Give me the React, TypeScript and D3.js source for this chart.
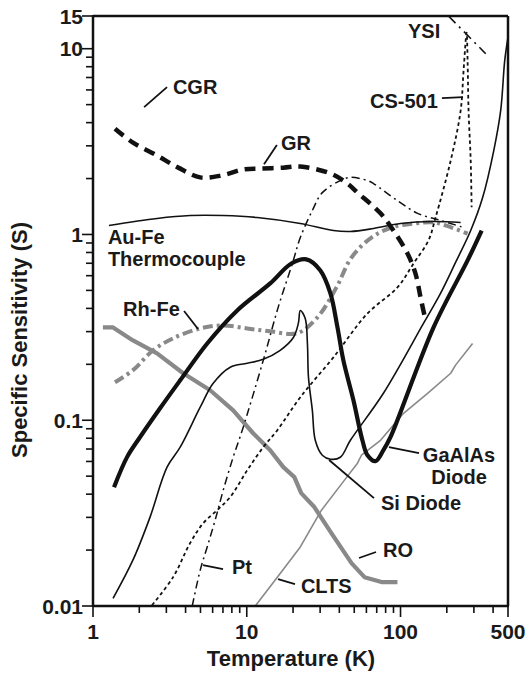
import React from "react";
import * as d3 from "d3";

type Pt = [number, number];

// [temperature (K), specific sensitivity S]
const cgr: Pt[] = [
  [1.39, 3.71], [1.82, 3.12], [2.61, 2.66], [3.58, 2.29], [4.98, 2.03], [6.92, 2.08],
  [9.49, 2.24], [12.2, 2.26], [17.3, 2.29], [22.3, 2.32], [35.0, 2.13], [45.2, 1.88],
  [52.5, 1.68], [74.1, 1.3], [90.0, 1.05], [111, 0.79], [125, 0.617], [135, 0.458], [145.5, 0.345],
];
const auFe: Pt[] = [
  [1.27, 1.118], [2.61, 1.22], [4.28, 1.265], [7.03, 1.265], [11.7, 1.234], [22.3, 1.146],
  [36.6, 1.05], [47.2, 1.038], [66.7, 1.077], [100, 1.146], [164, 1.175], [246, 1.16],
];
const rhFe: Pt[] = [
  [1.39, 0.16], [1.82, 0.186], [2.46, 0.238], [3.32, 0.276], [4.98, 0.312], [7.03, 0.324],
  [10.07, 0.312], [14.2, 0.301], [21.3, 0.294], [28.8, 0.358], [38.3, 0.519], [48.0, 0.752],
  [64.7, 0.963], [87.4, 1.09], [123, 1.146], [166, 1.16], [215, 1.09], [273, 1.01],
];
const gaAlAs: Pt[] = [
  [1.37, 0.0436], [1.665, 0.0633], [2.02, 0.081], [2.73, 0.116], [3.69, 0.164], [5.53, 0.259],
  [8.67, 0.39], [14.2, 0.545], [19.5, 0.698], [24.4, 0.734], [30.1, 0.64], [35.0, 0.482],
  [38.9, 0.316], [42.5, 0.21], [49.4, 0.128], [56.5, 0.078], [61.0, 0.0648], [68.7, 0.0602],
  [77.4, 0.069], [86.0, 0.081], [164, 0.316], [273, 0.725], [337, 1.05],
];
const siDiode: Pt[] = [
  [1.35, 0.011], [1.82, 0.0177], [2.35, 0.0301], [3.03, 0.0559], [3.69, 0.0716], [4.98, 0.1175],
  [6.05, 0.158], [7.81, 0.193], [10.07, 0.2025], [12.8, 0.213], [16.5, 0.238],
  [20.1, 0.279], [21.65, 0.332], [22.3, 0.39], [24.0, 0.353], [24.8, 0.259], [25.2, 0.17],
  [26.7, 0.113], [27.9, 0.078], [31.0, 0.0648], [35.0, 0.0617], [40.6, 0.0632], [47.2, 0.078],
  [77.4, 0.1397], [141, 0.332], [182, 0.482], [228, 0.707], [286, 1.05], [342, 1.58],
  [404, 2.83], [448, 4.64], [476, 8.62], [498, 11.3],
];
const ro: Pt[] = [
  [1.16, 0.316], [1.35, 0.316], [1.82, 0.269], [2.61, 0.229], [3.86, 0.179], [5.78, 0.145],
  [8.16, 0.113], [11.0, 0.0851], [14.2, 0.069], [17.3, 0.0559], [20.4, 0.0494], [22.6, 0.0405],
  [27.5, 0.0341], [35.5, 0.0247], [48.0, 0.017], [58.3, 0.0143], [75.2, 0.01346], [95.5, 0.01346],
];
const clts: Pt[] = [
  [11.36, 0.01], [15.8, 0.0143], [22.3, 0.0208], [30.6, 0.0328], [43.2, 0.0476], [52.5, 0.0587],
  [55.7, 0.0648], [74.1, 0.078], [104.6, 0.109], [150, 0.1397], [212, 0.179], [228, 0.198], [294, 0.259],
];
const platinum: Pt[] = [
  [4.42, 0.01], [4.98, 0.0156], [5.53, 0.0208], [6.23, 0.029], [7.03, 0.042], [8.16, 0.0633],
  [9.35, 0.0884], [12.8, 0.21], [16.0, 0.405], [19.8, 0.698], [22.3, 0.963], [26.7, 1.346],
  [31.0, 1.68], [40.6, 1.95], [47.2, 2.03], [61.0, 1.95], [66.7, 1.88], [95.5, 1.52],
  [129, 1.3], [182, 1.19], [257, 1.09],
];
const cs501: Pt[] = [
  [2.42, 0.0101], [3.32, 0.0143], [4.28, 0.0218], [5.21, 0.0279], [6.42, 0.0328], [7.81, 0.0386],
  [10.07, 0.0538], [12.8, 0.0716], [15.8, 0.0884], [22.3, 0.133], [36.6, 0.218], [61.0, 0.376],
  [95.5, 0.519], [121.5, 0.698], [152, 0.929], [169, 1.234], [212, 2.5], [246, 4.64],
  [257, 7.61], [269, 12.2], [273, 8.62], [277, 4.64], [286, 2.5], [290, 1.4],
];
const ysi: Pt[] = [[205, 15], [358, 9.4]];

const xMajor = [1, 10, 100, 500];
const xMinor = [2, 3, 4, 5, 6, 7, 8, 9, 20, 30, 40, 50, 60, 70, 80, 90, 200, 300, 400];
const yMajor = [0.01, 0.1, 1, 10, 15];
const yMinor = [
  0.02, 0.03, 0.04, 0.05, 0.06, 0.07, 0.08, 0.09,
  0.2, 0.3, 0.4, 0.5, 0.6, 0.7, 0.8, 0.9,
  2, 3, 4, 5, 6, 7, 8, 9,
];

const GREY = "#898989";
const FONT = "'Liberation Sans', Arial, Helvetica, sans-serif";

export default function App() {
  const x = d3.scaleLog().domain([1, 500]).range([93, 508]);
  const y = d3.scaleLog().domain([0.01, 15]).range([606, 16]);
  const smooth = d3.line<Pt>().x((d) => x(d[0])).y((d) => y(d[1])).curve(d3.curveCatmullRom.alpha(0.5));
  const straight = d3.line<Pt>().x((d) => x(d[0])).y((d) => y(d[1]));

  const series = [
    { data: clts, gen: straight, stroke: GREY, width: 1.6, dash: null },
    { data: ro, gen: straight, stroke: GREY, width: 4.2, dash: null },
    { data: rhFe, gen: smooth, stroke: GREY, width: 4, dash: "10,4,3,4" },
    { data: platinum, gen: smooth, stroke: "#111", width: 1.5, dash: "8,4,2,4" },
    { data: cs501, gen: smooth, stroke: "#111", width: 1.8, dash: "3.5,3" },
    { data: ysi, gen: straight, stroke: "#111", width: 1.6, dash: "10,5,2,5" },
    { data: auFe, gen: smooth, stroke: "#111", width: 1.6, dash: null },
    { data: siDiode, gen: smooth, stroke: "#111", width: 1.6, dash: null },
    { data: gaAlAs, gen: smooth, stroke: "#111", width: 4.2, dash: null },
    { data: cgr, gen: smooth, stroke: "#111", width: 4.5, dash: "11,7" },
  ];

  // labels placed in data coordinates, with pointer lines
  const labels = [
    { text: "CGR", at: [3.31, 5.7], ptr: [[3.03, 6.21], [2.15, 4.85]] },
    { text: "GR", at: [16.7, 2.85], ptr: [[15.7, 3.03], [12.95, 2.39]] },
    { text: "YSI", at: [111.9, 11.4], ptr: null },
    { text: "CS-501", at: [63.3, 4.79], ptr: [[186, 5.42], [255, 5.49]] },
    { text: "Rh-Fe", at: [1.57, 0.364], ptr: [[3.91, 0.387], [4.82, 0.31]] },
    { text: "Si Diode", at: [74.7, 0.0329], ptr: [[67.2, 0.0381], [34.3, 0.0611]] },
    { text: "RO", at: [76.9, 0.01835], ptr: [[69.3, 0.01953], [53.7, 0.01813]] },
    { text: "CLTS", at: [22.5, 0.01175], ptr: [[15.97, 0.01397], [20.6, 0.01313]] },
    { text: "Pt", at: [8.02, 0.01487], ptr: [[5.19, 0.01662], [7.01, 0.01581]] },
  ];
  const gaPtr: Pt[] = [[131.9, 0.0666], [84.1, 0.0717]];

  const [x0, x1] = x.range();
  const [y0, y1] = y.range();

  return (
    <svg
      width={528}
      height={673}
      style={{ position: "absolute", left: 0, top: 0, background: "#fff" }}
      fontFamily={FONT}
      fontWeight="bold"
    >
      {series.map((s, i) => (
        <path
          key={i}
          d={s.gen(s.data) || ""}
          fill="none"
          stroke={s.stroke}
          strokeWidth={s.width}
          strokeDasharray={s.dash || undefined}
          strokeLinejoin="round"
        />
      ))}

      {labels.map((l, i) => (
        <g key={i}>
          <text x={x(l.at[0])} y={y(l.at[1])} fontSize={20} fill="#1a1a1a">
            {l.text}
          </text>
          {l.ptr && (
            <line
              x1={x(l.ptr[0][0])}
              y1={y(l.ptr[0][1])}
              x2={x(l.ptr[1][0])}
              y2={y(l.ptr[1][1])}
              stroke="#111"
              strokeWidth={1.8}
            />
          )}
        </g>
      ))}
      <text x={x(1.25)} y={y(0.888)} fontSize={20} fill="#1a1a1a">
        <tspan>Au-Fe</tspan>
        <tspan x={x(1.25)} dy={22}>Thermocouple</tspan>
      </text>
      <text x={x(240)} y={y(0.0596)} fontSize={20} fill="#1a1a1a" textAnchor="middle">
        <tspan>GaAlAs</tspan>
        <tspan x={x(240)} dy={22}>Diode</tspan>
      </text>
      <line
        x1={x(gaPtr[0][0])}
        y1={y(gaPtr[0][1])}
        x2={x(gaPtr[1][0])}
        y2={y(gaPtr[1][1])}
        stroke="#111"
        strokeWidth={1.8}
      />

      {/* frame */}
      <g stroke="#111" strokeWidth={2.5} fill="none">
        <line x1={x0} x2={x1} y1={y1} y2={y1} />
        <line x1={x1} x2={x1} y1={y1} y2={y0} />
        <line x1={x0} x2={x1 + 1} y1={y0} y2={y0} />
        <line x1={x0} x2={x0} y1={y1 - 1} y2={y0 + 1} />
      </g>

      {/* x axis */}
      <g stroke="#111" strokeWidth={1.6}>
        {xMinor.map((v) => (
          <line key={v} x1={x(v)} x2={x(v)} y1={y0} y2={y0 + 7} />
        ))}
        {xMajor.map((v) => (
          <line key={v} x1={x(v)} x2={x(v)} y1={y0} y2={y0 + 11} />
        ))}
      </g>
      {xMajor.map((v) => (
        <text key={v} x={x(v)} y={639} fontSize={21} textAnchor="middle" fill="#1a1a1a">
          {v}
        </text>
      ))}

      {/* y axis */}
      <g stroke="#111" strokeWidth={1.6}>
        {yMinor.map((v) => (
          <line key={v} x1={x0} x2={x0 - 7} y1={y(v)} y2={y(v)} />
        ))}
        {yMajor.map((v) => (
          <line key={v} x1={x0} x2={x0 - 11} y1={y(v)} y2={y(v)} />
        ))}
      </g>
      {yMajor.map((v) => (
        <text key={v} x={83} y={y(v)} dy="0.36em" fontSize={21} textAnchor="end" fill="#1a1a1a">
          {v}
        </text>
      ))}

      <text x={291} y={666} fontSize={22} textAnchor="middle" fill="#1a1a1a">
        Temperature (K)
      </text>
      <text
        transform={`translate(27, 340) rotate(-90)`}
        fontSize={22}
        textAnchor="middle"
        fill="#1a1a1a"
      >
        Specific Sensitivity (S)
      </text>
    </svg>
  );
}
